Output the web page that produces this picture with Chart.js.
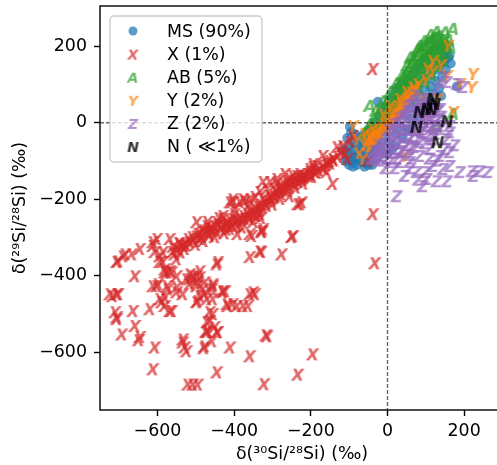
<!DOCTYPE html>
<html><head><meta charset="utf-8">
<script src="https://cdn.jsdelivr.net/npm/chart.js@4/dist/chart.umd.min.js"></script>
<style>
html,body{margin:0;padding:0;overflow:hidden;background:#fff;width:497px;height:465px}
#wrap{position:relative;width:510px;height:465px}
</style>
</head><body><div id="wrap"><canvas id="c" width="510" height="465"></canvas></div>
<script>
const xTicks = [-600, -400, -200, 0, 200];
const yTicks = [-600, -400, -200, 0, 200];
const xTitle = 'δ(³⁰Si/²⁸Si) (‰)';
const yTitle = 'δ(²⁹Si/²⁸Si) (‰)';
const seriesLabels = ['MS (90%)', 'X (1%)', 'AB (5%)', 'Y (2%)', 'Z (2%)', 'N ( ≪1%)'];

const msPoints = [
[-110,-75],[-105,-95],[-100,-60],[-98,-80],[-95,-100],[-90,-70],[-88,-50],[-85,-90],[-80,-110],[-78,-60],[-75,-80],[-72,-40],[-70,-100],[-68,-65],[-65,-85],[-62,-30],[-60,-55],[-58,-105],[-55,-75],[-52,-20],[-50,-45],[-48,-90],[-45,-65],[-42,-10],[-40,-35],[-38,-80],[-35,-55],[-32,0],[-30,-25],[-28,-70],[-25,55],[-25,-45],[-22,15],[-20,-10],[-18,-60],[-15,30],[-12,-35],[-10,5],[-8,-80],[-5,45],[-3,-20],[0,20],[2,-50],[5,60],[8,-5],[10,35],[12,-70],[15,75],[18,10],[20,50],[22,-30],[25,90],[28,25],[30,65],[32,95],[35,-10],[38,45],[40,100],[42,80],[45,20],[48,60],[50,113],[52,-20],[55,95],[58,40],[60,125],[62,75],[65,10],[68,110],[70,55],[72,140],[75,90],[78,30],[80,125],[82,150],[85,70],[88,105],[90,160],[92,40],[95,135],[98,85],[100,170],[102,115],[105,60],[108,150],[110,180],[112,95],[115,130],[118,190],[120,75],[122,160],[125,110],[128,200],[130,140],[132,175],[135,90],[138,155],[140,195],[142,120],[145,180],[148,160],[150,205],[152,140],[155,190],[158,170],[162,175],[165,155],[181,95],[-50,-110],[-30,-95],[0,-80],[20,-60],[40,-40],[60,-15],[80,5],[100,30],[120,50],[140,70],
[-115,-70],[-110,-100],[-100,-110],[-90,-115],[-80,-95],[-60,-115],[-40,-110],[-105,-40],[-95,-25],[-85,-30],[-98,-10]
];

const xPoints = [
[-38,139],[-38,-240],[-33,-368],
[-98,-51],[-117,-62],[-132,-65],[-91,-36],[-104,-96],[-51,-101],[-143,-96],[-169,-88],[-195,-109],[-158,-104],[-203,-130],[-143,-161],[-158,-130],[-221,-140],[-224,-209],
[-111,-83],[-151,-101],[-195,-117],[-197,-143],[-229,-135],[-224,-148],[-247,-140],[-268,-135],[-263,-154],[-289,-148],[-307,-156],[-325,-156],[-314,-174],[-281,-174],[-255,-193],[-234,-214],[-333,-182],[-346,-195],[-359,-201],[-372,-206],[-385,-209],[-404,-201],[-398,-227],[-359,-232],[-333,-240],[-325,-279],[-359,-292],[-247,-297],
[-184,-114],[-203,-122],[-237,-140],[-255,-148],[-281,-167],[-289,-182],[-307,-193],[-325,-201],[-229,-214],[-333,-227],[-341,-245],[-359,-253],[-377,-261],[-393,-271],[-411,-279],[-411,-209],[-377,-201],[-430,-253],[-445,-261],[-464,-279],[-482,-287],[-490,-305],[-498,-261],[-516,-313],[-534,-323],[-550,-331],[-568,-305],[-602,-305],[-612,-323],[-594,-350],[-586,-365],[-575,-392],[-646,-331],[-667,-345],[-690,-350],[-706,-365],[-659,-402],[-328,-284],[-354,-297],[-333,-337],[-359,-352],[-445,-371],[-276,-345],[-250,-300],[-612,-428],[-575,-428],[-550,-444],[-516,-410],[-498,-402],[-477,-418],[-456,-428],[-430,-444],[-351,-444],[-724,-449],[-706,-449],
[-581,-392],[-563,-392],[-550,-402],[-599,-423],[-573,-436],[-550,-431],[-524,-410],[-508,-402],[-490,-405],[-516,-423],[-498,-418],[-482,-436],[-456,-423],[-458,-436],[-430,-441],[-534,-449],[-581,-457],[-594,-462],[-490,-454],[-498,-470],[-471,-462],[-456,-462],[-717,-454],[-703,-449],[-664,-493],[-620,-488],[-581,-480],[-568,-493],[-711,-496],[-706,-509],[-659,-532],[-693,-554],[-646,-561],[-464,-519],[-471,-545],[-451,-535],[-443,-548],[-419,-475],[-404,-475],[-534,-567],
[-706,-514],[-607,-588],[-612,-645],[-534,-575],[-524,-598],[-529,-588],[-602,-428],[-563,-493],[-589,-470],[-498,-428],[-477,-449],[-495,-467],[-424,-441],[-464,-496],[-456,-501],[-471,-522],[-469,-548],[-445,-548],[-477,-585],[-458,-572],[-411,-588],[-417,-480],[-393,-480],[-377,-480],[-364,-480],[-359,-449],[-346,-449],[-314,-559],[-359,-611],[-445,-653],[-521,-685],[-508,-685],[-495,-685],[-322,-684],[-234,-659],[-195,-606],
[-649,-569],[-474,-548],[-479,-590],
[-391,-292],[-328,-287],[-330,-339],[-317,-556],
[-703,-363],[-685,-345],[-612,-313],[-607,-339],[-586,-339],[-594,-365],[-581,-384],[-542,-318],[-560,-339],[-550,-358],[-529,-331],[-471,-271],[-495,-292],[-464,-297],[-445,-287],[-443,-365],[-419,-271],[-430,-245],[-404,-209],[-490,-389],[-516,-397],[-568,-389],
[-560,-325],[-545,-315],[-530,-318],[-520,-305],[-510,-300],[-500,-298],[-490,-290],[-480,-282],[-470,-285],[-460,-275],[-450,-272],[-440,-268],[-430,-270],[-420,-262],[-410,-258],[-400,-255],[-395,-262],[-385,-250],[-375,-245],[-365,-240],[-355,-236],[-345,-228],[-338,-220],[-330,-215],[-320,-210],[-312,-205],[-305,-198],[-298,-190],[-290,-185],[-282,-178],[-275,-170],[-268,-165],[-260,-162],[-252,-158],[-245,-152],[-238,-150],[-230,-145],[-222,-150],[-215,-140],[-208,-135],[-200,-138],[-190,-130],[-180,-125],[-170,-118],[-160,-112],[-150,-108],[-140,-100],[-130,-90],[-122,-80],[-400,-240],[-420,-280],[-440,-250],[-380,-275],[-350,-260],[-330,-250],[-300,-215],[-280,-200],[-260,-180],[-240,-170],[-220,-160],[-470,-260],[-500,-320],[-540,-340],[-450,-300],[-480,-310],[-360,-215],[-290,-160],
[-415,-265],[-405,-270],[-392,-255],[-372,-252],[-362,-248],[-348,-242],[-336,-232],[-325,-222],[-315,-218],[-302,-206],[-293,-196],[-278,-188],[-270,-178],[-258,-170],[-243,-162],[-232,-156],[-218,-146],[-205,-142],[-185,-132],[-165,-122],[-505,-310],[-485,-300],[-465,-290],[-455,-283],[-435,-276],[-425,-290],[-525,-322],[-555,-345]
];

const abPoints = [
[-60,-30],[-50,-20],[-45,-5],[-40,-35],[-35,10],[-30,-20],[-25,20],[-20,0],[-15,35],[-10,15],[-5,45],[0,25],[5,55],[10,40],[15,70],[18,50],[22,85],[25,60],[30,95],[32,75],[36,105],[40,85],[44,120],[46,95],[50,130],[52,105],[56,140],[58,115],[62,150],[64,125],[68,160],[70,135],[74,170],[76,145],[80,180],[82,150],[86,185],[88,160],[92,195],[95,165],[98,200],[100,175],[104,205],[106,180],[110,212],[112,185],[116,215],[118,190],[122,220],[125,195],[128,222],[132,200],[135,225],[138,205],[142,215],[145,195],[150,210],[155,200],[160,215],[10,20],[20,35],[30,50],[40,65],[50,80],[60,95],[70,110],[80,120],[90,135],[100,150],[110,160],[120,170],[130,175],[140,180],[-20,-20],[-10,-10],[0,5],[171,244],[-46,43],[171,22],[130,-12],[150,235],[85,200],[60,170],
[-30,30],[-12,55],[8,80],[24,102],[38,122],[52,150],[66,168],[80,192],[96,212],[112,228],[128,236],[60,62],[80,84],[98,104],[115,122],[132,142],[145,160],[155,180],[165,195],[75,100],[92,118],[108,138],[124,152],[140,165]
];

const yPoints = [
[-60,-60],[-55,-48],[-50,-62],[-45,-42],[-42,-55],[-38,-35],[-35,-48],[-30,-28],[-28,-42],[-24,-20],[-20,-35],[-16,-12],[-12,-28],[-8,-5],[-5,-20],[0,2],[3,-12],[6,10],[9,-5],[12,18],[15,3],[18,25],[21,10],[24,32],[27,18],[30,40],[33,25],[36,48],[39,32],[42,55],[45,40],[48,62],[51,48],[55,70],[58,55],[62,78],[66,65],[70,85],
[223,126],[220,92],[189,100],[157,200],[118,160],[155,121],[171,27],[-90,-10],[-59,-30],[-46,-62],[118,134],[67,92],[50,79],[92,61],[32,61],[6,43],[-12,21],[-38,-18],[-46,-36],[45,-88],[100,110],[80,100],[130,60],[140,150],[105,140],[-75,-80],[-65,-95],[-80,-45]
];

const zPoints = [
[-30,-85],[-20,-70],[-15,-90],[-10,-55],[-5,-75],[0,-45],[0,-95],[5,-60],[10,-30],[10,-80],[15,-50],[20,-15],[20,-70],[25,-35],[28,0],[30,-55],[35,-20],[38,15],[40,-75],[42,-40],[45,0],[48,30],[50,-60],[52,-20],[55,15],[58,45],[60,-40],[62,-5],[65,30],[68,55],[70,-65],[72,-20],[75,15],[78,45],[80,-45],[82,0],[85,30],[88,60],[90,-25],[92,10],[95,40],[98,-55],[100,-10],[102,20],[105,50],[108,-35],[110,0],[112,30],[115,-15],[118,15],[120,40],[125,-30],[128,5],[130,30],[135,-10],[140,15],[-25,-60],[-35,-75],[-40,-95],[-20,-100],[0,-20],[15,-5],[30,10],[50,40],[70,70],[25,-95],[60,-85],
[24,-193],[189,-130],[220,-128],[241,-128],[262,-130],[224,-140],[128,-154],[155,-154],[92,-167],[102,-148],[145,-122],[162,-114],[118,-114],[76,-130],[58,-104],[32,-104],[6,-104],[84,-88],[137,-88],[162,-78],[110,-70],[155,-44],[162,-26],[162,-10],[118,-44],[137,-18],[84,-52],[58,-70],[32,-78],[-12,-88],[-28,-96],[67,-36],[181,100],[197,92],[145,118],[155,105],[118,27],[102,9],[118,-10],[92,-18],[84,35],[102,61],[128,87],[137,35],[60,-120],[100,-130],[130,-100],[175,-60],[45,-140],[80,-150],[110,-95],[150,-70],[-5,-120],[20,-120]
];

const nPoints = [
[118,61],[123,48],[102,35],[115,35],[84,27],[76,-12],[155,3],[131,-52]
];

const FONT = '"DejaVu Sans", sans-serif';
const ALPHA = 0.72;
const COLORS = {
  ms: 'rgba(31,119,180,' + ALPHA + ')',
  x: 'rgba(214,39,40,' + ALPHA + ')',
  ab: 'rgba(44,160,44,' + ALPHA + ')',
  y: 'rgba(255,127,14,' + ALPHA + ')',
  z: 'rgba(148,103,189,' + ALPHA + ')',
  n: 'rgba(0,0,0,' + 0.8 + ')'
};

function letterMarker(ch, color, size) {
  const s = Math.ceil(size * 1.3);
  const c = document.createElement('canvas');
  c.width = s; c.height = s;
  const g = c.getContext('2d');
  g.font = 'italic bold ' + size + 'px ' + FONT;
  g.textAlign = 'center';
  g.textBaseline = 'alphabetic';
  g.fillStyle = color;
  g.fillText(ch, s / 2, s / 2 + size * 0.365);
  return c;
}
const MSZ = 16;
const markers = {
  x: letterMarker('X', COLORS.x, MSZ),
  ab: letterMarker('A', COLORS.ab, MSZ),
  y: letterMarker('Y', COLORS.y, MSZ),
  z: letterMarker('Z', COLORS.z, MSZ),
  n: letterMarker('N', COLORS.n, MSZ)
};
const LSZ = 14;
const legendMarkers = [null,
  letterMarker('X', COLORS.x, LSZ), letterMarker('A', COLORS.ab, LSZ), letterMarker('Y', COLORS.y, LSZ),
  letterMarker('Z', COLORS.z, LSZ), letterMarker('N', COLORS.n, LSZ)];

const toXY = arr => arr.map(p => ({x: p[0], y: p[1]}));
function ds(label, pts, style, color, order, radius) {
  return {
    label, data: toXY(pts), pointStyle: style, pointRadius: radius, pointHoverRadius: radius,
    backgroundColor: color, borderColor: color, borderWidth: 0, order, showLine: false
  };
}
const datasets = [
  ds(seriesLabels[0], msPoints, 'circle', COLORS.ms, 6, 5),
  ds(seriesLabels[1], xPoints, markers.x, COLORS.x, 5, 5),
  ds(seriesLabels[2], abPoints, markers.ab, COLORS.ab, 4, 5),
  ds(seriesLabels[3], yPoints, markers.y, COLORS.y, 3, 5),
  ds(seriesLabels[4], zPoints, markers.z, COLORS.z, 2, 5),
  ds(seriesLabels[5], nPoints, markers.n, COLORS.n, 1, 5)
];

const fmt = v => (v < 0 ? '\u2212' + Math.abs(v) : String(v));

const overlay = {
  id: 'overlay',
  afterDatasetsDraw(chart) {
    const ctx = chart.ctx, a = chart.chartArea;
    const x0 = chart.scales.x.getPixelForValue(0);
    const y0 = chart.scales.y.getPixelForValue(0);
    ctx.save();
    ctx.beginPath(); ctx.rect(a.left, a.top, a.right - a.left, a.bottom - a.top); ctx.clip();
    ctx.strokeStyle = 'rgba(0,0,0,0.6)';
    ctx.lineWidth = 1.4;
    ctx.setLineDash([4, 2]);
    ctx.beginPath();
    ctx.moveTo(x0, a.top); ctx.lineTo(x0, a.bottom);
    ctx.moveTo(a.left, y0); ctx.lineTo(a.right, y0);
    ctx.stroke();
    ctx.restore();

    const L = a.left + 10, T = a.top + 10, W = 152, H = 146, r = 4;
    ctx.save();
    ctx.beginPath();
    ctx.roundRect(L, T, W, H, r);
    ctx.fillStyle = 'rgba(255,255,255,0.8)';
    ctx.fill();
    ctx.strokeStyle = '#cccccc';
    ctx.lineWidth = 1.4;
    ctx.stroke();
    ctx.font = '17.4px ' + FONT;
    ctx.textBaseline = 'middle';
    ctx.textAlign = 'left';
    for (let i = 0; i < seriesLabels.length; i++) {
      const cy = T + 15 + i * 23.1;
      const cx = L + 23;
      if (i === 0) {
        ctx.beginPath();
        ctx.arc(cx, cy, 4.5, 0, Math.PI * 2);
        ctx.fillStyle = COLORS.ms;
        ctx.fill();
      } else {
        const m = legendMarkers[i];
        ctx.drawImage(m, cx - m.width / 2, cy - m.height / 2);
      }
      ctx.fillStyle = '#000';
      ctx.fillText(seriesLabels[i], L + 57, cy + 1);
    }
    ctx.restore();
  },
  afterDraw(chart) {
    const ctx = chart.ctx, a = chart.chartArea;
    ctx.save();
    ctx.strokeStyle = '#000';
    ctx.lineWidth = 1.4;
    ctx.strokeRect(a.left, a.top, a.right - a.left, a.bottom - a.top);
    ctx.restore();
  }
};

const tickFont = {family: FONT, size: 17.4};
new Chart(document.getElementById('c'), {
  type: 'scatter',
  data: {datasets},
  options: {
    responsive: false,
    animation: false,
    devicePixelRatio: 1,
    layout: {padding: {top: 6, right: 6, left: 0, bottom: 0}},
    plugins: {legend: {display: false}, tooltip: {enabled: false}},
    scales: {
      x: {
        type: 'linear', min: -750, max: 304,
        afterBuildTicks: s => { s.ticks = xTicks.map(v => ({value: v})); },
        afterFit: s => { s.height = 55; s.paddingLeft = 0; s.paddingRight = 0; },
        ticks: {font: tickFont, color: '#000', padding: 5, callback: fmt, maxRotation: 0, autoSkip: false},
        grid: {drawOnChartArea: false, drawTicks: true, tickLength: 6, tickWidth: 1.4, tickColor: '#000'},
        border: {display: false},
        title: {display: true, text: xTitle, font: {family: FONT, size: 17.4}, color: '#000', padding: {top: 0, bottom: 0}}
      },
      y: {
        type: 'linear', min: -750, max: 305,
        afterBuildTicks: s => { s.ticks = yTicks.map(v => ({value: v})); },
        afterFit: s => { s.width = 100; s.paddingTop = 0; s.paddingBottom = 0; },
        ticks: {font: tickFont, color: '#000', padding: 7, callback: fmt, autoSkip: false},
        grid: {drawOnChartArea: false, drawTicks: true, tickLength: 6, tickWidth: 1.4, tickColor: '#000'},
        border: {display: false},
        title: {display: true, text: yTitle, font: {family: FONT, size: 17.4}, color: '#000', padding: {top: 10, bottom: 0}}
      }
    }
  },
  plugins: [overlay]
});
</script>
</body></html>
